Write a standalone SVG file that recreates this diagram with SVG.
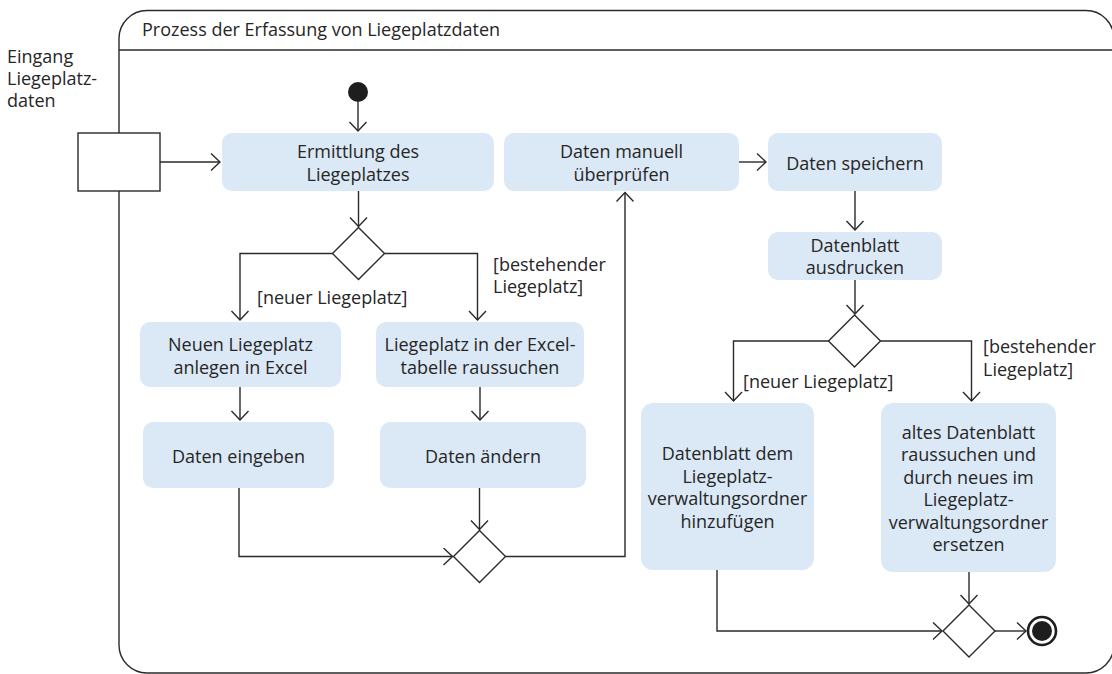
<svg xmlns="http://www.w3.org/2000/svg" width="1112" height="674" viewBox="0 0 1112 674">
  <style>
    text { font-family: "Open Sans", "Noto Sans", "Liberation Sans", sans-serif; font-size: 18px; fill: #262626; }
    .c { text-anchor: middle; }
    .act { fill: #dbe9f6; stroke: none; }
    .line { fill: none; stroke: #2a2a2a; stroke-width: 1.4; }
    .dec { fill: #ffffff; stroke: #2a2a2a; stroke-width: 1.4; }
    .flow { fill: none; stroke: #2a2a2a; stroke-width: 1.4; marker-end: url(#arrow); }
  </style>
  <defs>
    <marker id="arrow" markerUnits="userSpaceOnUse" markerWidth="14" markerHeight="20" refX="10" refY="9" orient="auto">
      <path d="M1,0.5 L10,9 L1,17.5" fill="none" stroke="#2a2a2a" stroke-width="1.4"/>
    </marker>
  </defs>

  <!-- activity frame (right side runs just past the canvas edge) -->
  <g id="frame">
    <rect x="119" y="10.5" width="995" height="662.5" rx="28" ry="28" class="line"/>
    <line x1="119" y1="50" x2="1112" y2="50" class="line"/>
    <text x="142" y="36">Prozess der Erfassung von Liegeplatzdaten</text>
  </g>

  <!-- input pin -->
  <g id="pin">
    <rect x="78" y="133" width="82" height="58" class="dec"/>
    <text x="7" y="63">Eingang</text>
    <text x="7" y="85">Liegeplatz-</text>
    <text x="7" y="107">daten</text>
  </g>

  <g id="start"><circle cx="358" cy="92" r="10" fill="#1e1e1e"/></g>

  <g id="ermittlung">
    <rect x="222" y="133" width="272" height="58" rx="10" class="act"/>
    <text x="358" y="158" class="c">Ermittlung des</text>
    <text x="358" y="181" class="c">Liegeplatzes</text>
  </g>

  <g id="pruefen">
    <rect x="504" y="133" width="235" height="58" rx="10" class="act"/>
    <text x="621.5" y="158" class="c">Daten manuell</text>
    <text x="621.5" y="181" class="c">überprüfen</text>
  </g>

  <g id="speichern">
    <rect x="768" y="133" width="174" height="58" rx="10" class="act"/>
    <text x="855" y="170" class="c">Daten speichern</text>
  </g>

  <g id="ausdrucken">
    <rect x="768" y="232" width="174" height="48" rx="10" class="act"/>
    <text x="855" y="251.5" class="c">Datenblatt</text>
    <text x="855" y="273.5" class="c">ausdrucken</text>
  </g>

  <g id="anlegen">
    <rect x="140" y="322" width="201" height="65" rx="10" class="act"/>
    <text x="240.5" y="351" class="c">Neuen Liegeplatz</text>
    <text x="240.5" y="374" class="c">anlegen in Excel</text>
  </g>

  <g id="raussuchen">
    <rect x="376" y="322" width="208" height="65" rx="10" class="act"/>
    <text x="480" y="351" class="c">Liegeplatz in der Excel-</text>
    <text x="480" y="374" class="c">tabelle raussuchen</text>
  </g>

  <g id="eingeben">
    <rect x="143" y="422" width="191" height="66" rx="10" class="act"/>
    <text x="238.5" y="463" class="c">Daten eingeben</text>
  </g>

  <g id="aendern">
    <rect x="380" y="422" width="206" height="66" rx="10" class="act"/>
    <text x="483" y="463" class="c">Daten ändern</text>
  </g>

  <g id="hinzufuegen">
    <rect x="641" y="403" width="173" height="167" rx="12" class="act"/>
    <text x="727.5" y="460" class="c">Datenblatt dem</text>
    <text x="727.5" y="482.5" class="c">Liegeplatz-</text>
    <text x="727.5" y="505" class="c">verwaltungsordner</text>
    <text x="727.5" y="527.5" class="c">hinzufügen</text>
  </g>

  <g id="ersetzen">
    <rect x="881" y="403" width="175" height="169" rx="12" class="act"/>
    <text x="968.5" y="438.5" class="c">altes Datenblatt</text>
    <text x="968.5" y="461" class="c">raussuchen und</text>
    <text x="968.5" y="483.5" class="c">durch neues im</text>
    <text x="968.5" y="506" class="c">Liegeplatz-</text>
    <text x="968.5" y="528.5" class="c">verwaltungsordner</text>
    <text x="968.5" y="551" class="c">ersetzen</text>
  </g>

  <g id="decision1"><path d="M358.5,227.5 L384.5,253.5 L358.5,279.5 L332.5,253.5 Z" class="dec"/></g>
  <g id="merge1"><path d="M479.5,530.5 L505.5,556.5 L479.5,582.5 L453.5,556.5 Z" class="dec"/></g>
  <g id="decision2"><path d="M854.5,315 L880.5,341 L854.5,367 L828.5,341 Z" class="dec"/></g>
  <g id="merge2"><path d="M969,605 L995,631 L969,657 L943,631 Z" class="dec"/></g>

  <g id="end">
    <circle cx="1042" cy="631" r="14" fill="#ffffff" stroke="#1e1e1e" stroke-width="2.6"/>
    <circle cx="1042" cy="631" r="10" fill="#1e1e1e"/>
  </g>

  <!-- control flows -->
  <g id="connectors">
    <path d="M358,102 V131" class="flow"/>
    <path d="M160,162 H220" class="flow"/>
    <path d="M358.5,191 V226.5" class="flow"/>
    <path d="M332.5,253.5 H240 V320" class="flow"/>
    <path d="M384.5,253.5 H477.5 V320" class="flow"/>
    <path d="M240,387 V420" class="flow"/>
    <path d="M480,387 V420" class="flow"/>
    <path d="M239,488 V556.5 H452.5" class="flow"/>
    <path d="M479.5,488 V529.5" class="flow"/>
    <path d="M505.5,556.5 H625 V192.5" class="flow"/>
    <path d="M739,162 H766" class="flow"/>
    <path d="M855,191 V230" class="flow"/>
    <path d="M855,280 V314" class="flow"/>
    <path d="M828.5,341 H733.5 V401" class="flow"/>
    <path d="M880.5,341 H971.5 V401" class="flow"/>
    <path d="M717,570 V631 H942" class="flow"/>
    <path d="M969,572 V604" class="flow"/>
    <path d="M995,631 H1026" class="flow"/>
  </g>

  <!-- guards -->
  <g id="guards">
    <text x="257" y="304">[neuer Liegeplatz]</text>
    <text x="493" y="271">[bestehender</text>
    <text x="493" y="293">Liegeplatz]</text>
    <text x="743" y="388">[neuer Liegeplatz]</text>
    <text x="983" y="353">[bestehender</text>
    <text x="983" y="376">Liegeplatz]</text>
  </g>
</svg>
